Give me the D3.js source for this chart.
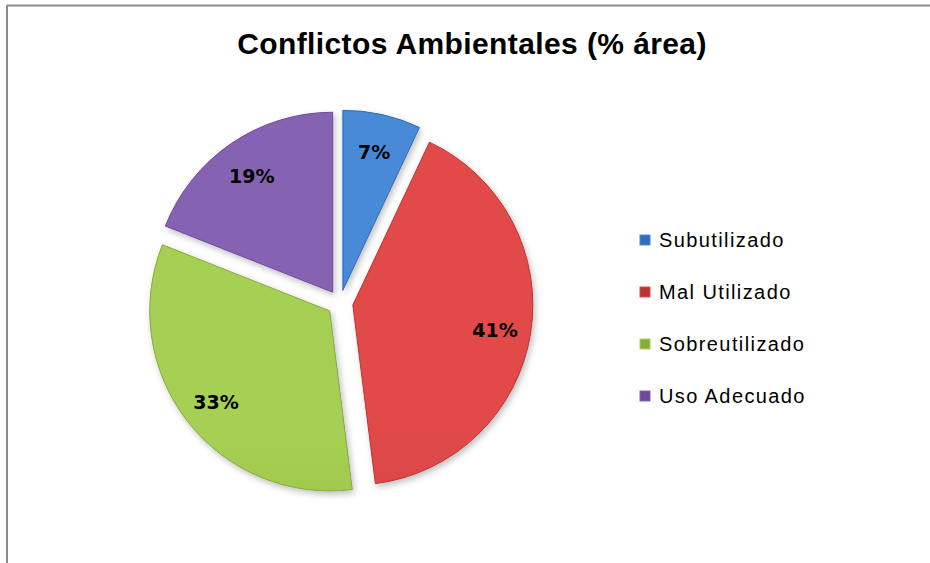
<!DOCTYPE html>
<html>
<head>
<meta charset="utf-8">
<script src="https://cdn.jsdelivr.net/npm/d3@7"></script>
<style>
  body { margin: 0; background: #ffffff; }
</style>
</head>
<body>
<div id="chart"></div>
<script>
// data
var categories = ["Subutilizado", "Mal Utilizado", "Sobreutilizado", "Uso Adecuado"];
var values = [7, 41, 33, 19];
var labels = ["7%", "41%", "33%", "19%"];
var colorsTop = ["#4a8ad8", "#e24a4a", "#a6d052", "#8662b2"];
var colorsBottom = ["#2f6cbc", "#b63434", "#86aa3c", "#6c4a9a"];

var w = 930,
    h = 563,
    cx = 340,
    cy = 303,
    radius = 180,
    explode = 13;

var svg = d3.select("#chart")
    .append("svg")
    .attr("width", w)
    .attr("height", h);

// frame (only top and left edges are visible)
svg.append("line")
    .attr("x1", 7).attr("y1", 5.5).attr("x2", w).attr("y2", 5.5)
    .attr("stroke", "#8c8c8c").attr("stroke-width", 2);
svg.append("line")
    .attr("x1", 7).attr("y1", 5).attr("x2", 7).attr("y2", h)
    .attr("stroke", "#8c8c8c").attr("stroke-width", 2);

svg.append("text")
    .attr("x", 472)
    .attr("y", 54)
    .attr("text-anchor", "middle")
    .attr("font-family", "'Liberation Sans', Arial, sans-serif")
    .attr("font-weight", "bold")
    .attr("font-size", "30px")
    .attr("letter-spacing", "0.4px")
    .attr("fill", "#000")
    .text("Conflictos Ambientales (% área)");

var defs = svg.append("defs");
categories.forEach(function (c, i) {
    var g = defs.append("linearGradient")
        .attr("id", "grad" + i)
        .attr("gradientUnits", "userSpaceOnUse")
        .attr("x1", 0).attr("y1", cy - radius)
        .attr("x2", 0).attr("y2", cy + radius);
    g.append("stop").attr("offset", "0%").attr("stop-color", colorsTop[i]);
    g.append("stop").attr("offset", "100%").attr("stop-color", colorsBottom[i]);
});

var filter = defs.append("filter").attr("id", "shadow")
    .attr("x", "-20%").attr("y", "-20%").attr("width", "140%").attr("height", "140%");
filter.append("feDropShadow")
    .attr("dx", 2).attr("dy", 3).attr("stdDeviation", 3)
    .attr("flood-color", "#000").attr("flood-opacity", 0.25);

var pie = d3.pie().sort(null).value(function (d) { return d; });
var arcs = pie(values);

var arc = d3.arc().innerRadius(0).outerRadius(radius);
var labelArc = d3.arc().innerRadius(radius * 0.8).outerRadius(radius * 0.8);

var slices = svg.append("g")
    .attr("transform", "translate(" + cx + "," + cy + ")")
    .selectAll("g")
    .data(arcs)
    .enter()
    .append("g")
    .attr("transform", function (d) {
        var a = (d.startAngle + d.endAngle) / 2;
        return "translate(" + (Math.sin(a) * explode) + "," + (-Math.cos(a) * explode) + ")";
    });

slices.append("path")
    .attr("d", arc)
    .attr("fill", function (d, i) { return "url(#grad" + i + ")"; })
    .attr("stroke", function (d, i) { return colorsBottom[i]; })
    .attr("stroke-width", 1)
    .attr("filter", "url(#shadow)");

slices.append("text")
    .attr("transform", function (d) { return "translate(" + labelArc.centroid(d) + ")"; })
    .attr("dy", "0.5em")
    .attr("text-anchor", "middle")
    .attr("font-family", "'DejaVu Sans', sans-serif")
    .attr("font-weight", "bold")
    .attr("font-size", "19px")
    .attr("fill", "#000")
    .text(function (d, i) { return labels[i]; });

// legend
var legend = svg.append("g")
    .selectAll("g")
    .data(categories)
    .enter()
    .append("g")
    .attr("transform", function (d, i) { return "translate(640," + (240 + i * 52) + ")"; });

legend.append("rect")
    .attr("x", 0).attr("y", -5)
    .attr("width", 10).attr("height", 10)
    .attr("fill", function (d, i) { return colorsBottom[i]; })
    .attr("stroke", function (d, i) { return colorsTop[i]; })
    .attr("stroke-width", 1);

legend.append("text")
    .attr("x", 19)
    .attr("y", 0)
    .attr("dy", "0.36em")
    .attr("font-family", "'Liberation Sans', Arial, sans-serif")
    .attr("font-size", "20px")
    .attr("letter-spacing", "1.4px")
    .attr("fill", "#000")
    .text(function (d) { return d; });
</script>
</body>
</html>
